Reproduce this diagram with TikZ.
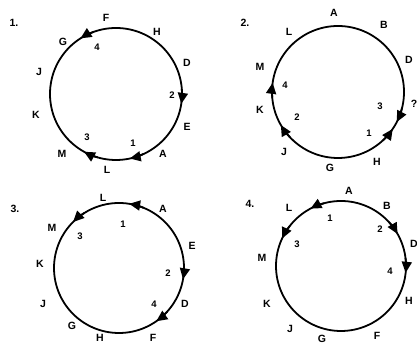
\documentclass[tikz,border=0pt]{standalone}
\usepackage{fontspec}
\setmainfont{Liberation Sans}
\usetikzlibrary{arrows.meta,calc}
\tikzset{
  ring/.style={draw=black, line width=1.8pt},
  lbl/.style={font=\fontsize{10.5}{12}\selectfont\bfseries, inner sep=0pt},
  num/.style={font=\fontsize{9.5}{11}\selectfont\bfseries, inner sep=0pt},
  tip/.style={line width=1.8pt, -{Triangle[length=11pt,width=10pt]}}
}
% #1 centre, #2 angle, #3 radius, #4 direction (+1 ccw, -1 cw)
\newcommand\ringarrow[4]{%
  \draw[tip] ($(#1)+({#2-(#4)*7}:#3)$) arc[start angle={#2-(#4)*7}, end angle={#2+(#4)*6}, radius=#3];}
\begin{document}
\begin{tikzpicture}[x=1pt,y=1pt]
\useasboundingbox (0,0) rectangle (417,352);
\clip (0,0) rectangle (417,352);
% centres
\coordinate (c1) at (116,258);
\coordinate (c2) at (338,260);
\coordinate (c3) at (119,84);
\coordinate (c4) at (341,86);
\draw[ring] (c1) circle[radius=66];
\draw[ring] (c2) circle[radius=66];
\draw[ring] (c3) circle[radius=65];
\draw[ring] (c4) circle[radius=65];
% circle 1
\node[lbl] (t1) at (14,329) {1.};
\node[lbl] (f1) at (106,334) {F};
\node[lbl] (g1) at (63,310) {G};
\node[num] (n14) at (97,305) {4};
\node[lbl] (h1) at (157,320) {H};
\node[lbl] (d1) at (187,289) {D};
\node[num] (n12) at (172,257) {2};
\node[lbl] (e1) at (187,225) {E};
\node[lbl] (a1) at (163,198) {A};
\node[num] (n11) at (133,209) {1};
\node[lbl] (l1) at (107,182) {L};
\node[lbl] (m1) at (62,198) {M};
\node[num] (n13) at (87,215) {3};
\node[lbl] (k1) at (36,237) {K};
\node[lbl] (j1) at (39,280) {J};
\ringarrow{c1}{116.6}{66}{1}
\ringarrow{c1}{-2.6}{66}{-1}
\ringarrow{c1}{-72}{66}{-1}
\ringarrow{c1}{-113}{66}{-1}
% circle 2
\node[lbl] (t2) at (245,329) {2.};
\node[lbl] (a2) at (334,339) {A};
\node[lbl] (b2) at (384,327) {B};
\node[lbl] (d2) at (409,292) {D};
\node[lbl] (q2) at (414,248) {?};
\node[num] (n23) at (380,246) {3};
\node[num] (n21) at (369,219) {1};
\node[lbl] (h2) at (377,190) {H};
\node[lbl] (g2) at (330,184) {G};
\node[lbl] (j2) at (284,200) {J};
\node[num] (n22) at (297,235) {2};
\node[lbl] (k2) at (260,242) {K};
\node[num] (n24) at (285,267) {4};
\node[lbl] (m2) at (260,285) {M};
\node[lbl] (l2) at (289,320) {L};
\ringarrow{c2}{178}{66}{-1}
\ringarrow{c2}{-144}{66}{-1}
\ringarrow{c2}{-21}{66}{-1}
\ringarrow{c2}{-40}{66}{1}
% circle 3
\node[lbl] (t3) at (15,143) {3.};
\node[lbl] (l3) at (103,154) {L};
\node[lbl] (a3) at (163,143) {A};
\node[num] (n31) at (123,128) {1};
\node[lbl] (m3) at (52,124) {M};
\node[num] (n33) at (80,116) {3};
\node[lbl] (e3) at (192,106) {E};
\node[lbl] (k3) at (40,88) {K};
\node[num] (n32) at (168,79) {2};
\node[lbl] (d3) at (185,48) {D};
\node[num] (n34) at (154,48) {4};
\node[lbl] (j3) at (43,48) {J};
\node[lbl] (g3) at (72,26) {G};
\node[lbl] (h3) at (100,14) {H};
\node[lbl] (f3) at (153,14) {F};
\ringarrow{c3}{75}{65}{1}
\ringarrow{c3}{129}{65}{1}
\ringarrow{c3}{-4}{65}{-1}
\ringarrow{c3}{-49}{65}{-1}
% circle 4
\node[lbl] (t4) at (250,148) {4.};
\node[lbl] (a4) at (349,161) {A};
\node[lbl] (l4) at (289,144) {L};
\node[num] (n41) at (330,134) {1};
\node[lbl] (b4) at (387,146) {B};
\node[num] (n42) at (380,123) {2};
\node[lbl] (d4) at (414,108) {D};
\node[num] (n43) at (297,108) {3};
\node[lbl] (m4) at (262,94) {M};
\node[num] (n44) at (390,81) {4};
\node[lbl] (h4) at (409,51) {H};
\node[lbl] (k4) at (267,48) {K};
\node[lbl] (j4) at (290,23) {J};
\node[lbl] (g4) at (322,13) {G};
\node[lbl] (f4) at (377,16) {F};
\ringarrow{c4}{112}{65}{1}
\ringarrow{c4}{149}{65}{1}
\ringarrow{c4}{35.5}{65}{-1}
\ringarrow{c4}{0}{65}{-1}
\end{tikzpicture}
\end{document}
